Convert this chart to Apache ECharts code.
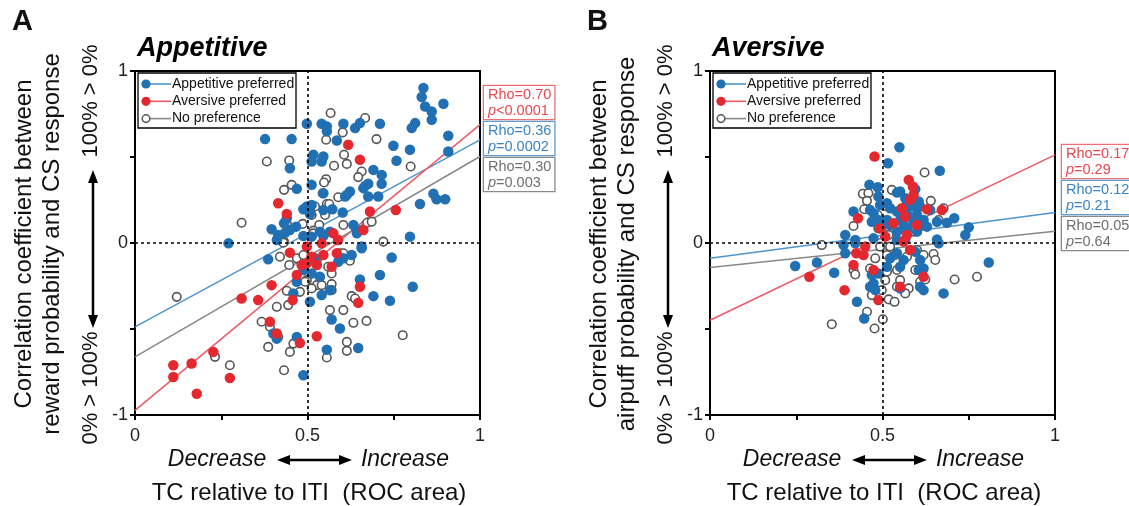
<!DOCTYPE html>
<html><head><meta charset="utf-8">
<script src="https://cdn.jsdelivr.net/npm/echarts@6/dist/echarts.min.js"></script>
<style>html,body{margin:0;padding:0;background:#fff}#c{width:1129px;height:506px}</style>
</head><body><div id="c"></div>
<script>
// ---------- DATA ----------
const xLabelValues = [0, 0.5, 1];
const yLabelValues = [-1, 0, 1];
const groupNames = ['Appetitive preferred', 'Aversive preferred', 'No preference'];

// Panel A (Appetitive) points [ROC area, correlation]
const appetitiveA = [
[0.836,0.901],[0.831,0.849],[0.841,0.794],[0.860,0.765],[0.860,0.717],[0.894,0.810],[0.908,0.624],[0.908,0.532],[0.812,0.697],[0.802,0.668],
[0.797,0.542],[0.758,0.478],[0.749,0.565],[0.710,0.693],[0.638,0.668],[0.652,0.697],[0.604,0.693],[0.541,0.693],[0.556,0.678],[0.556,0.649],
[0.585,0.596],[0.498,0.693],[0.454,0.604],[0.377,0.604],[0.449,0.435],[0.517,0.513],[0.512,0.474],[0.546,0.503],[0.541,0.474],[0.691,0.425],
[0.715,0.396],[0.715,0.344],[0.667,0.332],[0.676,0.344],[0.662,0.319],[0.705,0.270],[0.676,0.270],[0.623,0.299],[0.614,0.280],[0.609,0.270],
[0.512,0.338],[0.469,0.315],[0.546,0.289],[0.826,0.227],[0.865,0.286],[0.874,0.254],[0.899,0.254],[0.602,0.177],[0.572,0.196],[0.546,0.192],
[0.488,0.196],[0.498,0.212],[0.512,0.221],[0.507,0.169],[0.440,0.144],[0.432,0.115],[0.467,0.095],[0.449,0.076],[0.396,0.080],[0.415,0.047],
[0.411,0.017],[0.435,0.060],[0.488,0.041],[0.512,0.037],[0.546,0.041],[0.536,0.066],[0.565,0.066],[0.633,0.105],[0.643,0.076],[0.643,0.056],
[0.797,0.037],[0.657,-0.021],[0.271,-0.002],
[0.386,-0.095],[0.522,-0.089],[0.469,-0.225],[0.512,-0.177],[0.536,-0.196],[0.507,-0.342],[0.628,-0.070],[0.657,-0.031],[0.589,-0.109],[0.604,-0.089],
[0.744,-0.084],[0.710,-0.186],[0.652,-0.212],[0.691,-0.309],[0.739,-0.336],[0.805,-0.254],[0.570,-0.445],[0.594,-0.497],[0.469,-0.546],[0.411,-0.556],
[0.401,-0.526],[0.556,-0.620],[0.647,-0.610],[0.488,-0.769],[0.541,-0.303],[0.565,-0.274],[0.459,-0.293],[0.488,-0.157]
];
const aversiveA = [
[0.618,0.571],[0.652,0.484],[0.415,0.231],[0.440,0.169],[0.681,0.183],[0.662,0.076],[0.756,0.192],[0.575,0.056],[0.589,0.017],
[0.111,-0.711],[0.164,-0.701],[0.111,-0.779],[0.179,-0.876],[0.227,-0.633],[0.275,-0.785],[0.309,-0.323],[0.357,-0.332],[0.396,-0.245],[0.391,-0.458],
[0.411,-0.526],[0.457,-0.332],[0.478,-0.581],[0.527,-0.542],[0.449,-0.056],[0.498,-0.021],[0.483,-0.128],[0.498,-0.118],[0.541,-0.002],[0.546,-0.070],
[0.570,-0.138],[0.585,-0.060],[0.652,-0.254],[0.647,-0.348],[0.469,-0.186],[0.512,-0.080],[0.527,-0.128]
];
const noPrefA = [
[0.567,0.756],[0.667,0.727],[0.602,0.643],[0.554,0.600],[0.700,0.604],[0.382,0.474],[0.447,0.480],[0.606,0.513],[0.614,0.460],[0.577,0.449],
[0.799,0.445],[0.657,0.416],[0.647,0.383],[0.554,0.371],[0.548,0.352],[0.454,0.338],[0.432,0.309],[0.544,0.289],[0.589,0.266],[0.556,0.227],
[0.563,0.227],[0.522,0.212],[0.512,0.163],[0.507,0.202],[0.551,0.163],[0.309,0.118],[0.440,0.111],[0.486,0.111],[0.534,0.105],[0.517,0.072],
[0.604,0.105],[0.673,0.118],[0.686,0.124],[0.432,0.008],[0.720,0.008],[0.517,0.056],
[0.121,-0.313],[0.232,-0.662],[0.275,-0.711],[0.367,-0.458],[0.391,-0.487],[0.386,-0.604],[0.411,-0.371],[0.444,-0.361],[0.449,-0.633],[0.432,-0.740],
[0.459,-0.585],[0.415,-0.546],[0.565,-0.390],[0.604,-0.390],[0.633,-0.464],[0.671,-0.453],[0.614,-0.575],[0.614,-0.627],[0.556,-0.666],[0.776,-0.536],
[0.628,-0.309],[0.638,-0.323],[0.420,-0.080],[0.447,-0.128],[0.469,-0.089],[0.488,-0.070],[0.527,-0.099],[0.570,-0.177],[0.560,-0.138],[0.570,-0.239],
[0.527,-0.245],[0.440,-0.278],[0.478,-0.284],[0.498,-0.216],[0.493,-0.225],[0.570,-0.274],[0.623,-0.103],[0.594,-0.060],[0.604,-0.060],[0.430,0.002],
[0.512,-0.264],[0.541,-0.245]
];
// regression line end values at x=0 and x=1
const fitAppetitiveA = [[0,-0.488],[1,0.600]];
const fitAversiveA = [[0,-0.973],[1,0.688]];
const fitNoPrefA = [[0,-0.662],[1,0.503]];
const statsA = [['0.70','<0.0001'],['0.36','=0.0002'],['0.30','=0.003']];

// Panel B (Aversive)
const appetitiveB = [
[0.549,0.557],[0.516,0.464],[0.666,0.420],[0.462,0.338],[0.486,0.324],[0.551,0.299],[0.542,0.293],[0.595,0.313],[0.566,0.260],[0.571,0.241],
[0.488,0.270],[0.605,0.241],[0.609,0.212],[0.416,0.183],[0.464,0.192],[0.474,0.173],[0.493,0.221],[0.513,0.231],[0.522,0.202],[0.542,0.183],
[0.571,0.202],[0.590,0.212],[0.638,0.192],[0.551,0.134],[0.580,0.153],[0.600,0.163],[0.619,0.134],[0.513,0.134],[0.488,0.134],[0.469,0.124],
[0.498,0.091],[0.522,0.105],[0.561,0.105],[0.590,0.115],[0.609,0.105],[0.629,0.095],[0.658,0.124],[0.687,0.118],[0.708,0.144],[0.750,0.091],
[0.740,0.047],[0.392,0.047],[0.421,0.017],[0.474,0.027],[0.542,0.066],[0.571,0.076],[0.600,0.066],[0.658,0.021],[0.542,0.017],[0.566,0.017],
[0.387,-0.012],[0.392,-0.060],[0.421,-0.002],[0.360,-0.173],[0.469,-0.186],[0.474,-0.235],[0.464,-0.254],[0.479,-0.274],[0.488,-0.177],[0.513,-0.138],
[0.522,-0.089],[0.542,-0.060],[0.561,-0.099],[0.595,-0.051],[0.609,-0.099],[0.619,-0.148],[0.605,-0.157],[0.609,-0.254],[0.619,-0.274],[0.551,-0.264],
[0.551,-0.138],[0.426,-0.342],[0.447,-0.439],[0.677,-0.293],[0.663,-0.002],[0.247,-0.134],[0.310,-0.113],[0.808,-0.113]
];
const aversiveB = [
[0.477,0.503],[0.576,0.367],[0.588,0.328],[0.590,0.280],[0.580,0.251],[0.556,0.202],[0.629,0.196],[0.672,0.192],[0.429,0.144],[0.566,0.153],
[0.532,0.115],[0.493,0.085],[0.508,0.037],[0.571,0.047],[0.600,0.105],
[0.450,-0.021],[0.424,-0.060],[0.445,-0.070],[0.416,-0.128],[0.474,-0.157],[0.551,-0.254],[0.619,-0.196],[0.390,-0.274],[0.488,-0.332],[0.580,-0.041],
[0.561,0.008],[0.288,-0.196]
];
const noPrefB = [
[0.622,0.410],[0.527,0.309],[0.443,0.286],[0.459,0.289],[0.455,0.245],[0.447,0.196],[0.416,0.099],[0.513,0.212],[0.486,0.163],[0.640,0.245],
[0.677,0.202],[0.590,0.173],[0.663,0.134],[0.518,0.047],[0.590,0.066],[0.488,0.085],
[0.324,-0.012],[0.479,-0.089],[0.513,-0.070],[0.537,-0.070],[0.571,-0.080],[0.600,-0.041],[0.619,-0.070],[0.648,-0.064],[0.653,-0.099],[0.464,-0.148],
[0.416,-0.157],[0.421,-0.183],[0.513,-0.167],[0.542,-0.157],[0.508,-0.216],[0.551,-0.216],[0.576,-0.264],[0.566,-0.293],[0.542,-0.254],[0.498,-0.274],
[0.469,-0.303],[0.518,-0.328],[0.535,-0.342],[0.609,-0.225],[0.624,-0.212],[0.709,-0.212],[0.774,-0.196],[0.455,-0.400],[0.501,-0.443],[0.477,-0.497],
[0.353,-0.472],[0.595,-0.157],[0.522,-0.021],[0.493,-0.021]
];
const fitAppetitiveB = [[0,-0.089],[1,0.177]];
const fitAversiveB = [[0,-0.449],[1,0.512]];
const fitNoPrefB = [[0,-0.142],[1,0.068]];
const statsB = [['0.17','=0.29'],['0.12','=0.21'],['0.05','=0.64']];

// ---------- STYLE ----------
const FONT = '"Liberation Sans", Arial, Helvetica, sans-serif';
const C = {
  blue: '#2170b3', red: '#e3282f', gray: '#555555',
  blueLine: '#4f95cc', redLine: '#ec5a62', grayLine: '#888888',
  blueTxt: '#3a84c4', redTxt: '#e8474f', grayTxt: '#6f6f6f'
};

const chart = echarts.init(document.getElementById('c'), null, {renderer: 'canvas'});

function grid(left) { return {left: left, top: 71, width: 345, height: 344, show: true, borderColor: '#000', borderWidth: 2, containLabel: false}; }
function xAx(i) {
  return {gridIndex: i, type: 'value', min: 0, max: 1, interval: 0.25,
    axisLine: {show: true, onZero: false, lineStyle: {color: '#000', width: 2}},
    axisTick: {show: true, length: 5, lineStyle: {color: '#000', width: 2}},
    splitLine: {show: false},
    axisLabel: {margin: 12, color: '#222', fontSize: 18, fontFamily: FONT,
      formatter: v => xLabelValues.some(t => Math.abs(t - v) < 1e-9) ? String(v) : ''}};
}
function yAx(i) {
  return {gridIndex: i, type: 'value', min: -1, max: 1, interval: 0.5,
    axisLine: {show: true, onZero: false, lineStyle: {color: '#000', width: 2}},
    axisTick: {show: true, length: 5, lineStyle: {color: '#000', width: 2}},
    splitLine: {show: false},
    axisLabel: {margin: 7, color: '#222', fontSize: 18, fontFamily: FONT,
      formatter: v => yLabelValues.some(t => Math.abs(t - v) < 1e-9) ? String(v) : ''}};
}
function fitLine(i, data, color, withRef) {
  const s = {type: 'line', xAxisIndex: i, yAxisIndex: i, data: data, showSymbol: false, silent: true, z: 1,
    lineStyle: {color: color, width: 1.5}};
  if (withRef) {
    s.markLine = {silent: true, symbol: 'none', label: {show: false},
      lineStyle: {color: '#000', type: [3, 3], width: 1.6},
      data: [{xAxis: 0.5}, {yAxis: 0}]};
  }
  return s;
}
function filled(i, name, data, color) {
  return {type: 'scatter', name: name, xAxisIndex: i, yAxisIndex: i, data: data, symbol: 'circle', symbolSize: 10.5, z: 3,
    itemStyle: {color: color, opacity: 1}};
}
function empty(i, name, data) {
  return {type: 'scatter', name: name, xAxisIndex: i, yAxisIndex: i, data: data, symbol: 'circle', symbolSize: 8.5, z: 3,
    itemStyle: {color: '#fff', borderColor: C.gray, borderWidth: 1.6, opacity: 1}};
}

// ---------- decorations ----------
function panelGraphics(dx, letter, title, ytitle2) {
  const g = [];
  g.push({type: 'text', left: 12 + dx, top: 7, style: {text: letter, font: 'bold 29px ' + FONT, fill: '#111'}});
  g.push({type: 'text', x: 137 + dx, y: 62, style: {text: title, font: 'italic bold 27px ' + FONT, fill: '#000', verticalAlign: 'bottom'}});
  g.push({type: 'text', x: 38 + dx, y: 244, rotation: Math.PI / 2,
    style: {text: 'Correlation coefficient between\n' + ytitle2, font: '24px ' + FONT, fill: '#111',
      align: 'center', verticalAlign: 'middle', lineHeight: 28}});
  g.push({type: 'text', x: 91 + dx, y: 101, rotation: Math.PI / 2,
    style: {text: '100% > 0%', font: '22px ' + FONT, fill: '#111', align: 'center', verticalAlign: 'middle'}});
  g.push({type: 'text', x: 91 + dx, y: 388, rotation: Math.PI / 2,
    style: {text: '0% > 100%', font: '22px ' + FONT, fill: '#111', align: 'center', verticalAlign: 'middle'}});
  // vertical double arrow
  g.push({type: 'line', shape: {x1: 93 + dx, y1: 180, x2: 93 + dx, y2: 318}, style: {stroke: '#000', lineWidth: 2.5}});
  g.push({type: 'polygon', shape: {points: [[93 + dx, 170], [88 + dx, 183], [98 + dx, 183]]}, style: {fill: '#000'}});
  g.push({type: 'polygon', shape: {points: [[93 + dx, 328], [88 + dx, 315], [98 + dx, 315]]}, style: {fill: '#000'}});
  // horizontal double arrow + labels
  g.push({type: 'text', x: 217 + dx, y: 460, style: {text: 'Decrease', font: 'italic 23px ' + FONT, fill: '#111', align: 'center', verticalAlign: 'middle'}});
  g.push({type: 'text', x: 405 + dx, y: 460, style: {text: 'Increase', font: 'italic 23px ' + FONT, fill: '#111', align: 'center', verticalAlign: 'middle'}});
  g.push({type: 'line', shape: {x1: 286 + dx, y1: 460, x2: 343 + dx, y2: 460}, style: {stroke: '#000', lineWidth: 2.5}});
  g.push({type: 'polygon', shape: {points: [[277 + dx, 460], [290 + dx, 455], [290 + dx, 465]]}, style: {fill: '#000'}});
  g.push({type: 'polygon', shape: {points: [[352 + dx, 460], [339 + dx, 455], [339 + dx, 465]]}, style: {fill: '#000'}});
  g.push({type: 'text', x: 309 + dx, y: 493, style: {text: 'TC relative to ITI  (ROC area)', font: '24px ' + FONT, fill: '#111', align: 'center', verticalAlign: 'middle'}});
  // legend
  const lx = 138 + dx, ly = 73;
  const leg = [{type: 'rect', shape: {x: lx, y: ly, width: 158, height: 55}, style: {fill: '#fff', stroke: '#000', lineWidth: 1.3}}];
  const rows = [[C.blue, C.blueLine, false], [C.red, C.redLine, false], [C.gray, C.grayLine, true]];
  rows.forEach((r, k) => {
    const cy = ly + 11 + k * 17.3;
    leg.push({type: 'line', shape: {x1: lx + 12, y1: cy, x2: lx + 33, y2: cy}, style: {stroke: r[1], lineWidth: 1.6}});
    leg.push({type: 'circle', shape: {cx: lx + 8, cy: cy, r: r[2] ? 3.8 : 4.6},
      style: r[2] ? {fill: '#fff', stroke: r[0], lineWidth: 1.5} : {fill: r[0]}});
    leg.push({type: 'text', x: lx + 34, y: cy, style: {text: groupNames[k], font: '14px ' + FONT, fill: '#111', verticalAlign: 'middle'}});
  });
  g.push({type: 'group', z: 50, children: leg});
  return g;
}
function statBoxes(x, ys, stats) {
  const cols = [[C.redTxt, '#ef6f76'], [C.blueTxt, '#5d9bd0'], [C.grayTxt, '#8a8a8a']];
  return ys.map((y, k) => ({type: 'text', x: x, y: y, z: 60,
    style: {text: '{n|Rho=' + stats[k][0] + '}\n{p|p}{n|' + stats[k][1] + '}',
      backgroundColor: '#fff', borderColor: cols[k][1], borderWidth: 1.3, padding: [1, 3, 0, 4],
      rich: {n: {font: '14.5px ' + FONT, fill: cols[k][0], lineHeight: 16},
             p: {font: 'italic 14.5px ' + FONT, fill: cols[k][0], lineHeight: 16}}}}));
}

const graphic = [].concat(
  panelGraphics(0, 'A', 'Appetitive', 'reward probability and CS response'),
  panelGraphics(575, 'B', 'Aversive', 'airpuff probability and CS response'),
  statBoxes(484, [86, 122, 158], statsA),
  statBoxes(1062, [145, 181, 217], statsB)
);

chart.setOption({
  animation: false,
  backgroundColor: '#fff',
  textStyle: {fontFamily: FONT},
  grid: [grid(135), grid(710)],
  xAxis: [xAx(0), xAx(1)],
  yAxis: [yAx(0), yAx(1)],
  series: [
    fitLine(0, fitAppetitiveA, C.blueLine, true),
    fitLine(0, fitAversiveA, C.redLine, false),
    fitLine(0, fitNoPrefA, C.grayLine, false),
    empty(0, groupNames[2], noPrefA),
    filled(0, groupNames[0], appetitiveA, C.blue),
    filled(0, groupNames[1], aversiveA, C.red),
    fitLine(1, fitAppetitiveB, C.blueLine, true),
    fitLine(1, fitAversiveB, C.redLine, false),
    fitLine(1, fitNoPrefB, C.grayLine, false),
    empty(1, groupNames[2], noPrefB),
    filled(1, groupNames[0], appetitiveB, C.blue),
    filled(1, groupNames[1], aversiveB, C.red)
  ],
  graphic: graphic
});
</script></body></html>
